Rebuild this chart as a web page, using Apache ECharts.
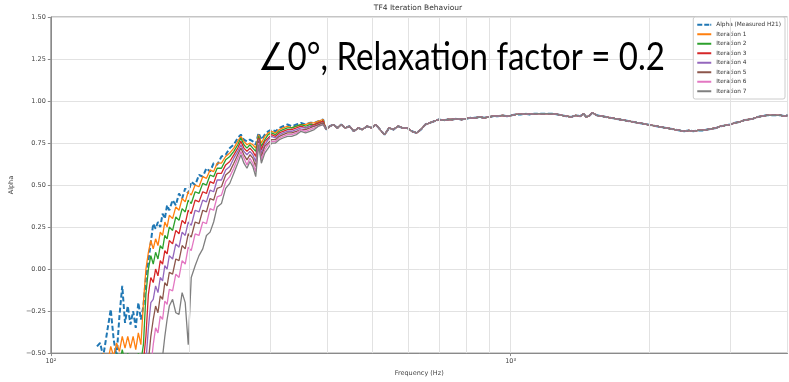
<!DOCTYPE html>
<html>
<head>
<meta charset="utf-8">
<script src="https://cdn.jsdelivr.net/npm/echarts@6/dist/echarts.min.js"></script>
<style>
  html, body { margin: 0; padding: 0; background: #fff; }
  #chart { width: 789px; height: 382px; }
</style>
</head>
<body>
<div id="chart"></div>
<script>
// Frequency points (Hz) where the iterations still differ from the measurement
const freqHead = [126,128,130,133,135,137,139,141,143,145,
  147,149,151,153,155,157,159,161,163,165,
  167,169,171,173,175,177,179,181,184,187,
  190,193,196,199,202,206,210,214,218,222,
  226,230,235,240,245,250,255,259,263,267,
  271,275,279,283,287,292,297,302,308,314,
  320,327,334,342,350,358,366,374,382,391];

// Measured absorption coefficient over freqHead
const measuredHead = [-0.46,-0.44,-0.52,-0.35,-0.24,-0.42,-0.52,-0.28,-0.10,-0.32,
  -0.22,-0.33,-0.25,-0.35,-0.20,-0.30,-0.22,-0.05,0.05,0.16,
  0.27,0.24,0.28,0.25,0.33,0.30,0.38,0.35,0.41,0.38,
  0.45,0.42,0.48,0.45,0.52,0.50,0.56,0.55,0.60,0.58,
  0.63,0.62,0.67,0.68,0.72,0.74,0.78,0.80,0.77,0.76,
  0.77,0.76,0.74,0.81,0.77,0.80,0.82,0.83,0.82,0.84,
  0.85,0.86,0.85,0.86,0.87,0.86,0.87,0.87,0.88,0.89];

const iter1Head = [-0.62,-0.58,-0.50,-0.55,-0.46,-0.52,-0.44,-0.49,-0.40,-0.47,
  -0.40,-0.47,-0.40,-0.48,-0.38,-0.45,-0.20,0.00,0.10,0.17,
  0.12,0.18,0.14,0.22,0.20,0.28,0.25,0.32,0.30,0.37,
  0.35,0.42,0.40,0.46,0.44,0.50,0.49,0.55,0.54,0.59,
  0.58,0.63,0.63,0.67,0.69,0.72,0.76,0.79,0.76,0.74,
  0.75,0.74,0.72,0.80,0.75,0.79,0.81,0.82,0.81,0.83,
  0.84,0.85,0.84,0.85,0.86,0.86,0.87,0.87,0.88,0.89];

const iter2Head = [-0.75,-0.72,-0.70,-0.66,-0.62,-0.55,-0.50,-0.56,-0.48,-0.55,
  -0.50,-0.56,-0.52,-0.58,-0.50,-0.55,-0.45,-0.15,0.00,0.08,
  0.03,0.10,0.06,0.14,0.12,0.20,0.18,0.25,0.23,0.31,
  0.29,0.36,0.34,0.41,0.39,0.46,0.45,0.51,0.50,0.56,
  0.55,0.60,0.60,0.65,0.67,0.70,0.74,0.78,0.74,0.72,
  0.74,0.72,0.70,0.79,0.73,0.77,0.80,0.81,0.80,0.82,
  0.83,0.84,0.84,0.85,0.86,0.85,0.86,0.86,0.87,0.88];

const iter3Head = [-0.85,-0.82,-0.80,-0.78,-0.75,-0.72,-0.70,-0.68,-0.66,-0.64,
  -0.62,-0.62,-0.60,-0.62,-0.60,-0.58,-0.55,-0.40,-0.15,-0.05,
  -0.08,0.00,-0.04,0.05,0.03,0.11,0.09,0.17,0.15,0.23,
  0.21,0.29,0.27,0.35,0.33,0.41,0.40,0.46,0.45,0.52,
  0.51,0.57,0.57,0.62,0.64,0.68,0.72,0.76,0.72,0.70,
  0.72,0.70,0.67,0.78,0.71,0.76,0.78,0.80,0.79,0.81,
  0.82,0.83,0.83,0.84,0.85,0.84,0.85,0.86,0.87,0.88];

const iter4Head = [-0.90,-0.90,-0.88,-0.86,-0.84,-0.82,-0.80,-0.78,-0.76,-0.74,
  -0.72,-0.70,-0.68,-0.66,-0.65,-0.62,-0.60,-0.55,-0.35,-0.20,
  -0.18,-0.10,-0.14,-0.05,-0.07,0.02,0.00,0.08,0.06,0.15,
  0.13,0.22,0.20,0.28,0.26,0.35,0.34,0.41,0.40,0.47,
  0.46,0.53,0.53,0.59,0.61,0.66,0.70,0.74,0.70,0.68,
  0.70,0.68,0.64,0.77,0.69,0.74,0.77,0.79,0.78,0.80,
  0.81,0.82,0.82,0.83,0.84,0.84,0.85,0.85,0.86,0.87];

const iter5Head = [-0.95,-0.95,-0.94,-0.92,-0.90,-0.88,-0.86,-0.84,-0.82,-0.80,
  -0.78,-0.76,-0.74,-0.72,-0.70,-0.68,-0.66,-0.62,-0.55,-0.40,
  -0.30,-0.22,-0.26,-0.16,-0.18,-0.08,-0.10,-0.02,-0.03,0.06,
  0.05,0.14,0.12,0.21,0.19,0.28,0.27,0.35,0.34,0.42,
  0.41,0.48,0.49,0.56,0.58,0.63,0.68,0.72,0.68,0.65,
  0.68,0.66,0.61,0.76,0.67,0.73,0.75,0.77,0.77,0.79,
  0.80,0.81,0.81,0.82,0.83,0.83,0.84,0.85,0.86,0.87];

const iter6Head = [-1.00,-1.00,-0.98,-0.96,-0.94,-0.92,-0.90,-0.88,-0.86,-0.84,
  -0.82,-0.80,-0.78,-0.76,-0.74,-0.72,-0.70,-0.68,-0.64,-0.58,
  -0.45,-0.35,-0.38,-0.28,-0.30,-0.19,-0.21,-0.12,-0.13,-0.03,
  -0.05,0.05,0.03,0.13,0.11,0.21,0.20,0.28,0.27,0.36,
  0.35,0.43,0.44,0.52,0.55,0.60,0.66,0.70,0.66,0.62,
  0.66,0.63,0.58,0.75,0.65,0.71,0.74,0.76,0.76,0.78,
  0.79,0.80,0.80,0.81,0.83,0.82,0.83,0.84,0.85,0.86];

const iter7Head = [-1.05,-1.05,-1.04,-1.02,-1.00,-0.98,-0.96,-0.94,-0.92,-0.90,
  -0.88,-0.86,-0.84,-0.82,-0.80,-0.78,-0.76,-0.74,-0.72,-0.70,
  -0.85,-0.75,-0.68,-0.60,-0.52,-0.40,-0.30,-0.22,-0.18,-0.26,
  -0.27,-0.14,-0.20,-0.45,-0.05,0.02,0.08,0.12,0.20,0.22,
  0.28,0.37,0.39,0.48,0.51,0.57,0.63,0.68,0.63,0.60,
  0.64,0.61,0.55,0.74,0.63,0.69,0.72,0.75,0.75,0.77,
  0.78,0.79,0.79,0.80,0.82,0.81,0.82,0.83,0.85,0.86];

// Above ~400 Hz all curves coincide
const freqTail = [397,404,412,420,428,437,446,456,466,476,
  487,498,509,520,532,544,556,569,582,596,
  610,624,638,652,667,682,698,714,730,747,
  764,782,800,818,837,856,876,896,917,938,
  960,982,1005,1028,1052,1076,1101,1127,1153,1180,
  1207,1235,1264,1293,1323,1354,1385,1417,1440,1460,
  1480,1506,1540,1576,1613,1650,1690,1730,1770,1811,
  1853,1896,1940,1985,2031,2078,2126,2175,2226,2277,
  2330,2384,2440,2496,2554,2613,2674,2736,2799,2864,
  2931,3000,3070,3141,3214,3289,3365,3443,3523,3605,
  3689,3775,3862,3952,4000];

const sharedTail = [0.83,0.85,0.86,0.84,0.86,0.84,0.85,0.82,0.84,0.83,
  0.85,0.84,0.86,0.83,0.80,0.84,0.83,0.85,0.84,0.84,
  0.82,0.81,0.83,0.86,0.87,0.88,0.89,0.885,0.89,0.89,
  0.895,0.89,0.895,0.90,0.90,0.905,0.90,0.905,0.91,0.91,
  0.915,0.91,0.915,0.92,0.92,0.925,0.92,0.925,0.925,0.925,
  0.925,0.925,0.92,0.915,0.91,0.905,0.915,0.91,0.925,0.905,
  0.91,0.93,0.915,0.91,0.905,0.90,0.895,0.89,0.885,0.88,
  0.875,0.87,0.865,0.86,0.855,0.85,0.845,0.84,0.835,0.83,
  0.825,0.82,0.825,0.82,0.825,0.825,0.83,0.835,0.84,0.85,
  0.855,0.86,0.87,0.875,0.885,0.89,0.895,0.905,0.91,0.915,
  0.915,0.915,0.915,0.91,0.915];

const seriesNames = ['Alpha (Measured H21)','Iteration 1','Iteration 2','Iteration 3',
  'Iteration 4','Iteration 5','Iteration 6','Iteration 7'];
const seriesHeads = [measuredHead, iter1Head, iter2Head, iter3Head,
  iter4Head, iter5Head, iter6Head, iter7Head];
const seriesColors = ['#1f77b4','#ff7f0e','#2ca02c','#d62728',
  '#9467bd','#8c564b','#e377c2','#7f7f7f'];

const minorGridFreqs = [200,300,400,500,600,700,800,900,2000,3000];

function buildData(head) {
  const pts = freqHead.map((f, i) => [f, head[i]]);
  return pts.concat(freqTail.map((f, i) => [f, sharedTail[i]]));
}

const axisFont = 'DejaVu Sans';
const textColor = '#444';
const frameColor = '#8a8a8a';

// legend keys: a dashed bar for the measurement, solid bars for the iterations
const dashedKey = 'path://M0,0h5v2h-5zM7,0h5v2h-5zM13,0h1v2h-1z';
const solidKey = 'path://M0,0h14v2h-14z';

const series = seriesNames.map((name, k) => ({
  name: name,
  type: 'line',
  data: buildData(seriesHeads[k]),
  showSymbol: false,
  symbol: 'none',
  clip: true,
  z: 3,
  lineStyle: k === 0
    ? { color: seriesColors[k], width: 2, type: [5, 2.5] }
    : { color: seriesColors[k], width: 1.3 },
  itemStyle: { color: seriesColors[k] }
}));

// light vertical lines at the log-decade subdivisions
series.push({
  type: 'line',
  data: [],
  z: 1,
  silent: true,
  markLine: {
    silent: true,
    symbol: 'none',
    label: { show: false },
    lineStyle: { color: '#e2e2e2', width: 1, type: 'solid' },
    data: minorGridFreqs.map(f => ({ xAxis: f }))
  }
});

const chart = echarts.init(document.getElementById('chart'), null, { renderer: 'canvas' });
chart.setOption({
  animation: false,
  backgroundColor: '#fff',
  grid: { left: 49, right: 1.5, top: 17, bottom: 19.5, show: true, borderColor: frameColor, borderWidth: 1 },
  xAxis: {
    type: 'log',
    logBase: 10,
    min: 100,
    max: 4000,
    name: 'Frequency (Hz)',
    nameLocation: 'middle',
    nameGap: 13,
    nameTextStyle: { fontFamily: axisFont, fontSize: 6.5, color: textColor },
    axisLine: { show: true, onZero: false, lineStyle: { color: frameColor } },
    axisTick: { show: true, length: 3, lineStyle: { color: frameColor } },
    axisLabel: {
      fontFamily: axisFont, fontSize: 6.5, color: textColor, margin: 5,
      showMaxLabel: false,
      formatter: function (v) {
        if (Math.abs(v - 100) < 1) return '10\u00B2';
        if (Math.abs(v - 1000) < 1) return '10\u00B3';
        return '';
      }
    },
    splitLine: { show: true, lineStyle: { color: '#e2e2e2', width: 1 } }
  },
  yAxis: {
    type: 'value',
    min: -0.5,
    max: 1.5,
    interval: 0.25,
    name: 'Alpha',
    nameLocation: 'middle',
    nameRotate: 90,
    nameGap: 28,
    nameTextStyle: { fontFamily: axisFont, fontSize: 6.5, color: textColor },
    axisLine: { show: true, onZero: false, lineStyle: { color: frameColor } },
    axisTick: { show: true, length: 3, lineStyle: { color: frameColor } },
    axisLabel: {
      fontFamily: axisFont, fontSize: 6.5, color: textColor, margin: 5,
      formatter: function (v) {
        const s = Math.abs(v).toFixed(2);
        return v < 0 ? '\u2212' + s : s;
      }
    },
    splitLine: { show: true, lineStyle: { color: '#e2e2e2', width: 1 } }
  },
  legend: {
    data: seriesNames.map((n, k) => ({ name: n, icon: k === 0 ? dashedKey : solidKey })),
    orient: 'vertical',
    right: 4,
    top: 17,
    itemWidth: 14,
    itemHeight: 2,
    itemGap: 2.0,
    padding: [4, 4, 4, 4],
    backgroundColor: 'rgba(255,255,255,0.85)',
    borderColor: '#cccccc',
    borderWidth: 1,
    borderRadius: 2,
    textStyle: { fontFamily: axisFont, fontSize: 5.8, color: '#333', lineHeight: 7.5 }
  },
  graphic: [
    {
      type: 'text',
      x: 418,
      y: 4,
      z: 10,
      style: {
        text: 'TF4 Iteration Behaviour',
        align: 'center',
        fontFamily: axisFont,
        fontSize: 7.5,
        fill: '#333'
      }
    },
    {
      type: 'text',
      x: 258,
      y: 39,
      scaleX: 0.87,
      z: 10,
      style: {
        text: '\u22200\u00B0, Relaxation factor = 0.2',
        fontFamily: 'Lato',
        fontSize: 38,
        fill: '#000'
      }
    }
  ],
  series: series
});
</script>
</body>
</html>
